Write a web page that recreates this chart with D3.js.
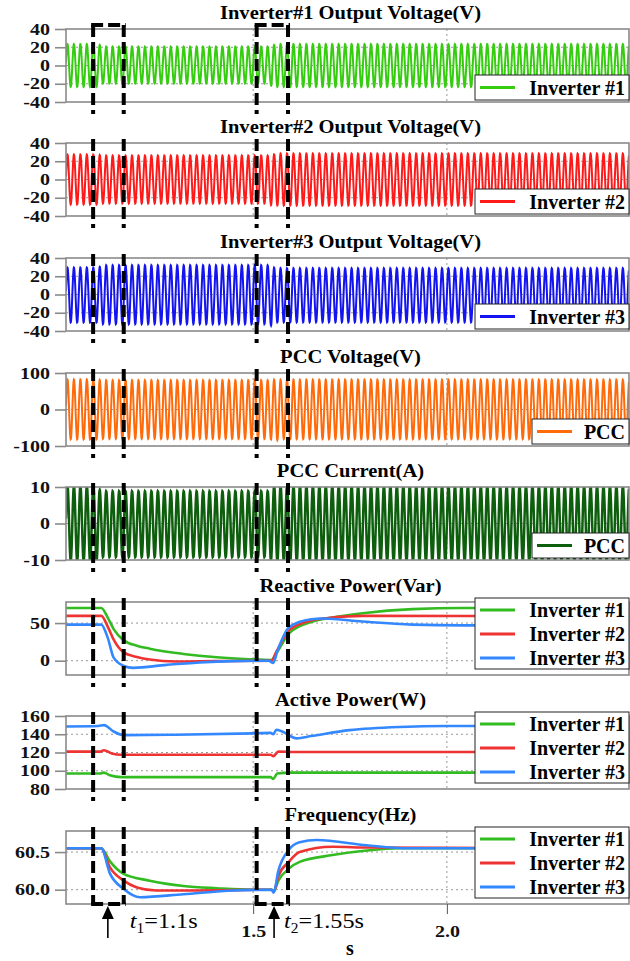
<!DOCTYPE html>
<html><head><meta charset="utf-8">
<script src="https://cdn.jsdelivr.net/npm/d3@7"></script>
<style>
body{margin:0;background:#fff}
svg{display:block}
text{font-family:"Liberation Serif","Times New Roman",serif}
</style>
</head><body>
<svg id="c" width="630" height="961"></svg>
<script>
// ---------------- DATA ----------------
const timeDomain = [1.017, 2.47];
const xTicks = [1.5, 2.0];
const xAxisLabel = "s";
const box1 = [1.087, 1.166];
const box2 = [1.509, 1.590];
const arrowTimes = [1.125, 1.554];
const eventLabels = [["t","1","=1.1s"],["t","2","=1.55s"]];
const carrierHz = 60;

const titles = ["Inverter#1 Output Voltage(V)","Inverter#2 Output Voltage(V)","Inverter#3 Output Voltage(V)",
  "PCC Voltage(V)","PCC Current(A)","Reactive Power(Var)","Active Power(W)","Frequency(Hz)"];
const seriesNames = ["Inverter #1","Inverter #2","Inverter #3"];
const pccName = "PCC";

// waveform envelopes: [time, positive peak, negative peak]
const inv1Env = [[1.017,23.5,23.3],[1.100,23.5,23.3],[1.112,20.7,19.8],[1.545,20.7,19.8],[1.548,22,26],[1.562,23.5,23.5],[2.47,23.5,23.5]];
const inv2Env = [[1.017,27.3,27.3],[1.100,27.3,27.3],[1.112,26.2,26.2],[1.545,26.2,26.2],[1.548,27,31],[1.562,28.4,28.4],[2.47,28.4,28.4]];
const inv3Env = [[1.017,29.5,30.6],[1.100,29.5,30.6],[1.112,32,32.5],[1.545,32,32.5],[1.548,30,37],[1.562,28.8,30.5],[2.47,28.8,30.5]];
const pccVEnv = [[1.017,82,81.4],[1.100,82,81.4],[1.112,80,80],[1.545,80,80],[1.552,82,95],[1.565,81.5,81],[2.47,81.5,81]];
const pccIEnv = [[1.017,10.3,10.3],[1.098,10.3,10.3],[1.106,8.85,9.2],[1.540,8.85,9.2],[1.548,10.3,10.3],[2.47,10.3,10.3]];

// reactive power (Var)
const qInv1 = [[1.017,70],[1.108,70],[1.125,57],[1.14,42],[1.166,27],[1.2,20],[1.233,16],[1.32,9],[1.406,4.5],[1.49,2],[1.547,1],[1.56,10],[1.594,37],[1.654,52],[1.7,57],[1.782,63],[1.911,68.5],[2.04,70],[2.47,70]];
const qInv2 = [[1.017,59.5],[1.108,59.5],[1.125,45],[1.14,28],[1.166,11],[1.2,5],[1.233,1.5],[1.3,-1],[1.4,-0.5],[1.547,0],[1.56,12],[1.594,41],[1.654,54],[1.7,57],[1.782,59.5],[2.47,59]];
const qInv3 = [[1.017,48],[1.108,48],[1.125,30],[1.14,4],[1.166,-7],[1.19,-9.5],[1.277,-5.5],[1.362,-2.3],[1.448,-0.5],[1.54,0],[1.552,-3],[1.562,12],[1.594,45],[1.65,55],[1.68,56],[1.782,52],[1.911,48],[2.04,47],[2.47,47]];
// active power (W)
const pInv1 = [[1.017,97],[1.105,97],[1.115,98],[1.13,95],[1.16,93],[1.3,93],[1.545,93],[1.552,91],[1.562,97],[1.6,98],[2.47,98]];
const pInv2 = [[1.017,121],[1.105,121],[1.115,122.5],[1.135,119],[1.16,117.5],[1.3,117.5],[1.545,117.5],[1.552,116],[1.565,121],[1.6,120.5],[2.47,120.5]];
const pInv3 = [[1.017,148.5],[1.1,149],[1.115,150],[1.14,143],[1.166,139],[1.3,139.5],[1.5,141],[1.545,141.5],[1.552,140],[1.56,145],[1.575,143],[1.612,135.5],[1.65,138],[1.749,144.5],[1.878,148],[2.0,149],[2.47,149]];
// frequency (Hz)
const fInv1 = [[1.017,60.55],[1.108,60.55],[1.13,60.38],[1.166,60.21],[1.233,60.12],[1.32,60.05],[1.406,60.02],[1.5,60.0],[1.548,60.0],[1.553,59.98],[1.565,60.12],[1.592,60.28],[1.62,60.37],[1.705,60.46],[1.793,60.52],[1.88,60.55],[2.47,60.55]];
const fInv2 = [[1.017,60.55],[1.108,60.55],[1.13,60.3],[1.166,60.12],[1.2,60.03],[1.25,59.99],[1.35,59.99],[1.548,60.0],[1.553,59.97],[1.565,60.18],[1.592,60.37],[1.62,60.5],[1.705,60.57],[1.8,60.56],[2.47,60.55]];
const fInv3 = [[1.017,60.55],[1.108,60.55],[1.13,60.22],[1.166,60.01],[1.208,59.9],[1.32,59.94],[1.45,59.99],[1.548,60.0],[1.553,59.96],[1.565,60.25],[1.592,60.53],[1.62,60.63],[1.664,60.66],[1.793,60.59],[1.9,60.55],[2.47,60.55]];

const yDomains = [[-40,40],[-40,40],[-40,40],[-100,100],[-10,10],[-19,78],[80,160],[59.81,60.78]];
const yTicks = [[40,20,0,-20,-40],[40,20,0,-20,-40],[40,20,0,-20,-40],[100,0,-100],[10,0,-10],[50,0],[160,140,120,100,80],[60.5,60.0]];

// ---------------- LAYOUT / STYLE ----------------
const L = 66, R = 629, PH = 73;
const panelTops = [29,143,258,373,487,602,716,831];
const waveColors = ["#36cc10","#ff1a1a","#1414f0","#ff6a0a","#0d5e0d"];
const waveWidths = [2,2,2,2,2.5];
const pColors = ["#33bb22","#ee3333","#3388ff"];
const FONT = "Liberation Serif, Times New Roman, serif";

const svg = d3.select("#c");
const x = d3.scaleLinear().domain(timeDomain).range([L, R]);

function stretch(sel, f){
  sel.each(function(){
    const w = this.getComputedTextLength();
    this.setAttribute("textLength", w*f);
    this.setAttribute("lengthAdjust","spacingAndGlyphs");
  });
}
function envAt(env, t, k){
  return d3.scaleLinear().domain(env.map(d=>d[0])).range(env.map(d=>d[k])).clamp(true)(t);
}
function wave(env){
  const pts = [];
  const step = 1/(carrierHz*36);
  for(let t=timeDomain[0]; t<=timeDomain[1]; t+=step){
    const s = Math.sin(2*Math.PI*carrierHz*t);
    const a = s>=0 ? envAt(env,t,1) : envAt(env,t,2);
    pts.push([t, s*a]);
  }
  return pts;
}

const waveEnvs = [inv1Env, inv2Env, inv3Env, pccVEnv, pccIEnv];
const powerSets = [[qInv1,qInv2,qInv3],[pInv1,pInv2,pInv3],[fInv1,fInv2,fInv3]];
const defs = svg.append("defs");

panelTops.forEach((top, i) => {
  const bottom = top + PH;
  const y = d3.scaleLinear().domain(yDomains[i]).range([bottom, top]);
  const g = svg.append("g");
  defs.append("clipPath").attr("id","cp"+i).append("rect")
    .attr("x",L).attr("y",top).attr("width",R-L).attr("height",PH);

  // title
  const tt = g.append("text").attr("x",(L+R)/2+3).attr("y",top-10.5).attr("text-anchor","middle")
    .attr("font-size",18).attr("font-weight","bold").text(titles[i]);
  stretch(tt, 1.14);

  // grid
  const innerTicks = yTicks[i].filter(v => y(v) > top+1 && y(v) < bottom-1);
  g.selectAll(".hg").data(innerTicks).enter().append("line")
    .attr("x1",L).attr("x2",R).attr("y1",d=>y(d)).attr("y2",d=>y(d))
    .attr("stroke","#999").attr("stroke-width",1).attr("stroke-dasharray","2,3");
  g.selectAll(".vg").data(xTicks).enter().append("line")
    .attr("x1",d=>x(d)).attr("x2",d=>x(d)).attr("y1",top).attr("y2",bottom)
    .attr("stroke","#999").attr("stroke-width",1).attr("stroke-dasharray","2,3");

  // data
  const line = d3.line().x(d=>x(d[0])).y(d=>y(d[1]));
  const plot = g.append("g").attr("clip-path","url(#cp"+i+")");
  if(i < 5){
    plot.append("path").datum(wave(waveEnvs[i])).attr("d", line)
      .attr("fill","none").attr("stroke",waveColors[i]).attr("stroke-width",waveWidths[i]);
  } else {
    const ml = d3.line().x(d=>x(d[0])).y(d=>y(d[1])).curve(d3.curveMonotoneX);
    powerSets[i-5].forEach((s,k)=>{
      plot.append("path").datum(s).attr("d", ml)
        .attr("fill","none").attr("stroke",pColors[k]).attr("stroke-width",2.6);
    });
  }

  // frame
  g.append("rect").attr("x",L).attr("y",top).attr("width",R-L).attr("height",PH)
    .attr("fill","none").attr("stroke","#8a8a8a").attr("stroke-width",1.6);

  // y axis
  const fmt = i===7 ? (d=>d.toFixed(1)) : (d=>String(d));
  const ax = g.append("g").attr("transform",`translate(${L},0)`)
    .call(d3.axisLeft(y).tickValues(yTicks[i]).tickSize(11).tickPadding(5).tickFormat(fmt));
  ax.select(".domain").remove();
  ax.selectAll(".tick line").attr("stroke","#8a8a8a").attr("stroke-width",1.6);
  const tl = ax.selectAll(".tick text").attr("font-size",16).attr("font-weight","bold")
    .attr("font-family",FONT).attr("fill","#111");
  stretch(tl, 1.25);

  // legends
  if(i < 5){
    const isPcc = i >= 3;
    const bx = isPcc ? 532 : 475;
    const by = bottom - 27;
    g.append("rect").attr("x",bx).attr("y",by).attr("width",R-bx).attr("height",25)
      .attr("fill","#fff").attr("stroke","#222").attr("stroke-width",1);
    g.append("line").attr("x1",bx+5).attr("x2",bx+40).attr("y1",by+12.5).attr("y2",by+12.5)
      .attr("stroke",waveColors[i]).attr("stroke-width",3);
    g.append("text").attr("x",R-4).attr("y",by+19.5).attr("text-anchor","end")
      .attr("font-size",20).attr("font-weight","bold")
      .text(isPcc ? pccName : seriesNames[i]);
  } else {
    const bx = 475, by = top - 4;
    g.append("rect").attr("x",bx).attr("y",by).attr("width",R-bx).attr("height",71)
      .attr("fill","#fff").attr("stroke","#222").attr("stroke-width",1);
    seriesNames.forEach((n,k)=>{
      const cy = by + 12 + k*24;
      g.append("line").attr("x1",bx+5).attr("x2",bx+40).attr("y1",cy).attr("y2",cy)
        .attr("stroke",pColors[k]).attr("stroke-width",3);
      g.append("text").attr("x",R-4).attr("y",cy+7).attr("text-anchor","end")
        .attr("font-size",20).attr("font-weight","bold").text(n);
    });
  }

  // dashed event boxes (vertical edges)
  const last = i === panelTops.length-1;
  const y1 = top - 4, y2 = last ? bottom : bottom + 12;
  [box1[0],box1[1],box2[0],box2[1]].forEach(t=>{
    svg.append("line").attr("x1",x(t)).attr("x2",x(t)).attr("y1",y1).attr("y2",y2)
      .attr("stroke","#000").attr("stroke-width",4).attr("stroke-dasharray","12,5");
  });
  if(i===0 || last){
    const yy = i===0 ? y1 : y2;
    [box1, box2].forEach(b=>{
      svg.append("line").attr("x1",x(b[0])-2).attr("x2",x(b[1])+2).attr("y1",yy).attr("y2",yy)
        .attr("stroke","#000").attr("stroke-width",4).attr("stroke-dasharray","12,5");
    });
  }

  // bottom x axis on last panel
  if(last){
    const bxa = svg.append("g").attr("transform",`translate(0,${bottom})`)
      .call(d3.axisBottom(x).tickValues(xTicks).tickSize(10).tickPadding(12).tickFormat(d=>d.toFixed(1)));
    bxa.select(".domain").remove();
    bxa.selectAll(".tick line").attr("stroke","#555").attr("stroke-width",1);
    const xl = bxa.selectAll(".tick text").attr("font-size",16).attr("font-weight","bold")
      .attr("font-family",FONT).attr("fill","#111");
    stretch(xl, 1.25);
    svg.append("text").attr("x",(x(xTicks[0])+x(xTicks[1]))/2).attr("y",955).attr("text-anchor","middle")
      .attr("font-size",20).attr("font-weight","bold").text(xAxisLabel);

    // arrows + labels
    arrowTimes.forEach((t,k)=>{
      const ax0 = x(t);
      svg.append("line").attr("x1",ax0).attr("x2",ax0).attr("y1",938).attr("y2",917)
        .attr("stroke","#000").attr("stroke-width",1.6);
      svg.append("path").attr("d",`M${ax0},906 L${ax0-6},919 L${ax0+6},919 Z`).attr("fill","#000");
      const lab = eventLabels[k];
      const tx = svg.append("text").attr("x",ax0+(k===0?22:10)).attr("y",928).attr("font-size",22);
      tx.append("tspan").attr("font-style","italic").text(lab[0]);
      tx.append("tspan").attr("font-size",14).attr("dy",5).text(lab[1]);
      tx.append("tspan").attr("dy",-5).text(lab[2]);
      stretch(tx, 1.1);
    });
  }
});
</script>
</body></html>
